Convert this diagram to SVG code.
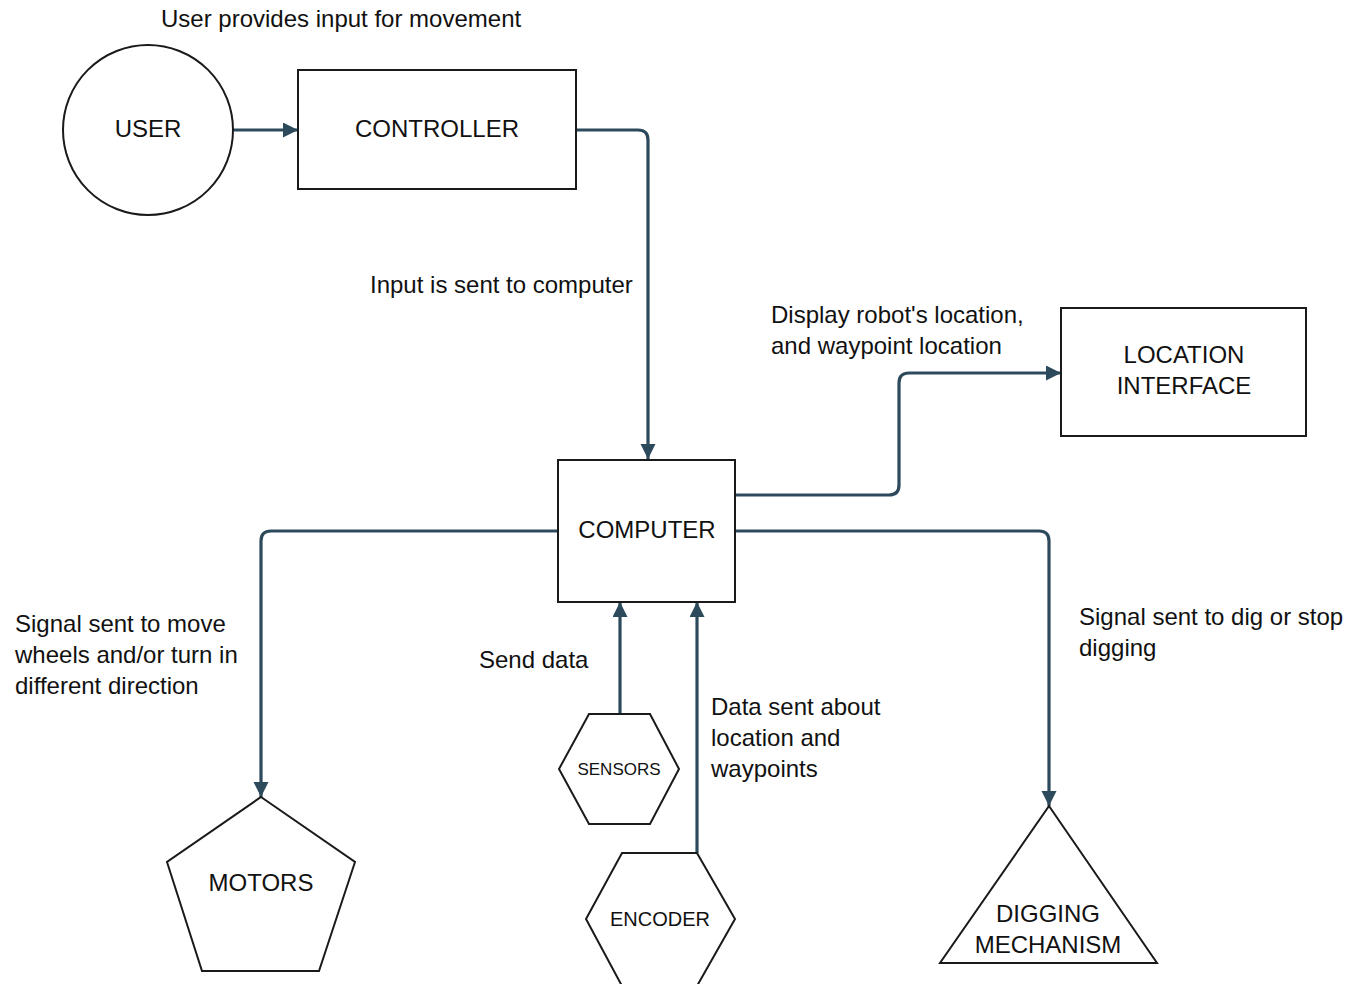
<svg xmlns="http://www.w3.org/2000/svg" width="1349" height="984" viewBox="0 0 1349 984">
<style>
.node{fill:#fff;stroke:#1a1a1a;stroke-width:2}
.t{font-family:"Liberation Sans",Arial,sans-serif;font-size:24px;fill:#111}
.c{text-anchor:middle}
.edge{fill:none;stroke:#2d4a5c;stroke-width:3.2}
</style>
<defs>
<marker id="ah" markerWidth="16" markerHeight="16" refX="15" refY="7.5" orient="auto" markerUnits="userSpaceOnUse">
<path d="M0,0 L15,7.5 L0,15 Z" fill="#2d4a5c"/>
</marker>
</defs>
<rect width="1349" height="984" fill="#fff"/>
<g id="connectors">
<path class="edge" d="M233,130 L298,130" marker-end="url(#ah)"/>
<path class="edge" d="M576,130 L638,130 Q648,130 648,140 L648,459" marker-end="url(#ah)"/>
<path class="edge" d="M735,495 L889,495 Q899,495 899,485 L899,383 Q899,373 909,373 L1061,373" marker-end="url(#ah)"/>
<path class="edge" d="M558,531 L271,531 Q261,531 261,541 L261,797" marker-end="url(#ah)"/>
<path class="edge" d="M735,531 L1039,531 Q1049,531 1049,541 L1049,806" marker-end="url(#ah)"/>
<path class="edge" d="M620,714 L620,602" marker-end="url(#ah)"/>
<path class="edge" d="M697,853 L697,602" marker-end="url(#ah)"/>
</g>
<g id="labels">
<text class="t" x="161" y="27">User provides input for movement</text>
<text class="t" x="370" y="293">Input is sent to computer</text>
<text class="t" x="771" y="323">Display robot's location,</text>
<text class="t" x="771" y="354">and waypoint location</text>
<text class="t" x="15" y="632">Signal sent to move</text>
<text class="t" x="15" y="663">wheels and/or turn in</text>
<text class="t" x="15" y="694">different direction</text>
<text class="t" x="479" y="668">Send data</text>
<text class="t" x="711" y="715">Data sent about</text>
<text class="t" x="711" y="746">location and</text>
<text class="t" x="711" y="777">waypoints</text>
<text class="t" x="1079" y="625">Signal sent to dig or stop</text>
<text class="t" x="1079" y="656">digging</text>
</g>
<g id="user">
<circle class="node" cx="148" cy="130" r="85"/>
<text class="t c" x="148" y="137">USER</text>
</g>
<g id="controller">
<rect class="node" x="298" y="70" width="278" height="119"/>
<text class="t c" x="437" y="137">CONTROLLER</text>
</g>
<g id="computer">
<rect class="node" x="558" y="460" width="177" height="142"/>
<text class="t c" x="647" y="538">COMPUTER</text>
</g>
<g id="location-interface">
<rect class="node" x="1061" y="308" width="245" height="128"/>
<text class="t c" x="1184" y="363">LOCATION</text>
<text class="t c" x="1184" y="394">INTERFACE</text>
</g>
<g id="motors">
<polygon class="node" points="261,797 355,862 319,971 202,971 167,862"/>
<text class="t c" x="261" y="891">MOTORS</text>
</g>
<g id="sensors">
<polygon class="node" points="589,714 650,714 679,769 650,824 589,824 559,769"/>
<text class="t c" x="619" y="775" style="font-size:17px">SENSORS</text>
</g>
<g id="encoder">
<polygon class="node" points="622,853 697,853 735,919 697,986 622,986 586,919"/>
<text class="t c" x="660" y="926" style="font-size:20px">ENCODER</text>
</g>
<g id="digging-mechanism">
<polygon class="node" points="1049,806 1157,963 940,963"/>
<text class="t c" x="1048" y="922">DIGGING</text>
<text class="t c" x="1048" y="953">MECHANISM</text>
</g>
</svg>
